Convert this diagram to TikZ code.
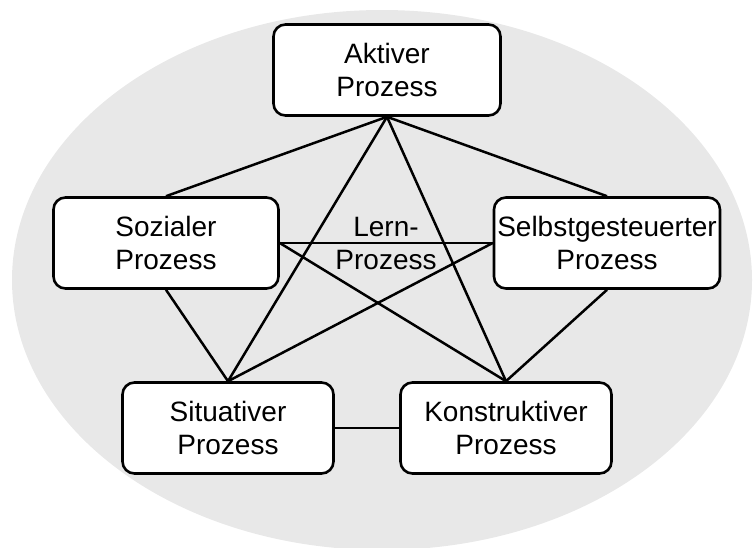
\documentclass[tikz,border=0pt]{standalone}
\usepackage{fontspec}
\setmainfont{Liberation Sans}
\definecolor{bggray}{RGB}{232,232,232}

\begin{document}
\begin{tikzpicture}[x=1pt, y=-1pt,
    prozess/.style={draw, line width=2.6pt, rounded corners=12pt, fill=white, inner sep=0pt, minimum height=91pt, align=center, font=\fontsize{28}{33}\selectfont},
    link/.style={line width=2.5pt}]
        \useasboundingbox (0,0) rectangle (754,547);
        
        \fill [bggray] (382,280) ellipse [x radius=370pt, y radius=270pt];
        
        \node (aktiv) [prozess, minimum width=227pt] at (387,70) {Aktiver\\Prozess};
        
        \node (sozial) [prozess, minimum width=225pt] at (166,243) {Sozialer\\Prozess};
        \node (selbst) [prozess, minimum width=226pt] at (607,243) {Selbstgesteuerter\\Prozess};
        
        \node (situativ) [prozess, minimum width=211pt] at (228,428) {Situativer\\Prozess};
        \node (konstrukt) [prozess, minimum width=211pt] at (506,428) {Konstruktiver\\Prozess};
        
        \node (lern) [align=center, inner sep=0pt, font=\fontsize{28}{33}\selectfont] at (386,243) {Lern-\\Prozess};
        
        \draw [link] (aktiv.south) -- (sozial.north);
        \draw [link] (aktiv.south) -- (selbst.north);
        \draw [link] (aktiv.south) -- (situativ.north);
        \draw [link] (aktiv.south) -- (konstrukt.north);
        
        \draw [link] (sozial.east) -- (selbst.west);
        \draw [link] (sozial.east) -- (konstrukt.north);
        \draw [link] (sozial.south) -- (situativ.north);
        
        \draw [link] (selbst.west) -- (situativ.north);
        \draw [link] (selbst.south) -- (konstrukt.north);
        
        \draw [link] (situativ.east) -- (konstrukt.west);
    \end{tikzpicture}
\end{document}
